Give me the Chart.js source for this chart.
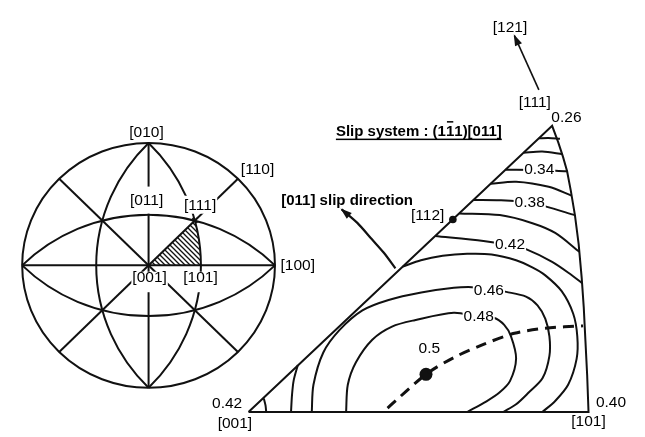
<!DOCTYPE html>
<html>
<head>
<meta charset="utf-8">
<script src="https://cdn.jsdelivr.net/npm/chart.js@4.4.1/dist/chart.umd.min.js"></script>
<style>
  html, body { margin: 0; padding: 0; background: #fff; }
  canvas { display: block; }
</style>
</head>
<body>
<canvas id="fig" width="645" height="437"></canvas>
<script>
// ---------- Left: standard (001) stereographic net, unit primitive circle ----------
const netPrimitive = [0, 0, 1];                       // centre x, centre y, radius
const netGreatCircles = [                              // centre x, centre y, radius, from deg, to deg
  [0, -1, 1.4142, 45, 135],
  [0, 1, 1.4142, 225, 315],
  [1, 0, 1.4142, 135, 225],
  [-1, 0, 1.4142, -45, 45]
];
const netDiameters = [
  [-1, 0, 1, 0],
  [0, -1, 0, 1],
  [-0.7071, -0.7071, 0.7071, 0.7071],
  [-0.7071, 0.7071, 0.7071, -0.7071]
];
const pole001 = [0, 0];
const pole101 = [0.4142, 0];
const pole111 = [0.366, 0.366];
const netLabels = [
  ['[010]', -0.016, 1.084, ''],
  ['[110]', 0.862, 0.783, ''],
  ['[011]', -0.016, 0.529, 'gap'],
  ['[111]', 0.408, 0.487, 'near'],
  ['[001]', 0.008, -0.105, 'below'],
  ['[101]', 0.411, -0.105, 'below'],
  ['[100]', 1.180, 0.0, '']
];

// ---------- Right: enlarged standard triangle, [001]->[101] = 100 ----------
const triangleOutline = [
  [0, 0], [100, 0], [99.6, 11.0], [99.1, 21.0], [98.6, 31.1], [98.0, 39.8],
  [97.1, 49.9], [96.0, 58.5], [94.8, 65.7], [93.7, 71.5], [92.5, 75.8],
  [91.1, 80.1], [89.3, 85.0], [0, 0]
];
// Schmid-factor contours for slip system (1-11)[011]
const sf030 = [[85.4, 81.3], [88.2, 81.4], [91.6, 81.2]];
const sf032 = [[80.9, 77.0], [86.4, 77.4], [92.4, 76.6]];
const sf034 = [[75.6, 72.0], [85.5, 71.9], [93.9, 71.5]];
const sf036 = [[71.2, 67.8], [78.7, 68.4], [88.3, 66.9], [95.0, 64.3]];
const sf038 = [[66.2, 63.0], [74.0, 62.9], [82.7, 62.3], [87.3, 61.1], [96.0, 58.5]];
const sf040 = [[62.0, 59.0], [73.9, 58.5], [83.5, 56.1], [90.2, 53.2], [97.3, 47.6]];
const sf042 = [[54.9, 52.3], [69.1, 50.8], [76.9, 49.6], [81.6, 48.4], [89.3, 44.6], [95.0, 40.7], [98.1, 38.3]];
const sf042Corner = [[4.5, 4.0], [5.0, 2.0], [5.2, 0]];
const sf044 = [[45.4, 43.2], [50.7, 45.1], [57.1, 46.4], [64.3, 47.0], [71.5, 46.8], [78.7, 45.1],
  [83.6, 42.9], [87.3, 40.6], [92.1, 35.9], [95.5, 29.2], [96.7, 22.5], [96.5, 15.8],
  [94.0, 8.1], [90.2, 3.3], [86.4, 0]];
const sf044Corner = [[14.5, 14.0], [13.3, 9.5], [12.8, 5.2], [12.5, 0]];
const sf046 = [[18.6, 0], [19.1, 8.1], [22.0, 17.7], [26.8, 24.4], [33.5, 30.2], [41.2, 33.3],
  [50.8, 35.5], [60.4, 36.9], [65.7, 37.1], [70.6, 36.7], [75.8, 35.7], [81.6, 34.3],
  [85.0, 31.7], [87.3, 27.7], [88.5, 22.5], [88.5, 16.7], [86.5, 10.1], [82.4, 5.8],
  [78.7, 2.3], [74.9, 0]];
const sf048 = [[28.7, 0], [29.2, 8.1], [31.6, 14.8], [36.4, 21.5], [42.2, 25.4], [48.9, 27.3],
  [60.4, 29.5], [67.7, 28.2], [72.1, 28.0], [75.2, 25.9], [77.2, 22.5], [78.7, 15.9],
  [76.9, 9.2], [73.8, 5.8], [70.0, 3.2], [64.3, 0]];
const maxPath = [[40.9, 1.2], [52.2, 11.2], [60.4, 16.2], [69.1, 20.1], [78.2, 23.4], [87.3, 24.9], [98.4, 25.6]];
const maxPoint = [[52.2, 11.2]];
const point112 = [[60.1, 57.2]];
const slipArrow = [[43.2, 42.7], [39.8, 47.3], [36.3, 51.3], [32.0, 56.2], [27.4, 60.2]];
const rotationArrow = [[85.4, 95.7], [78.2, 111.8]];
const ipfLabels = [
  ['[121]', 76.9, 114.1, ''],
  ['[111]', 84.2, 91.9, ''],
  ['0.26', 93.5, 87.3, ''],
  ['0.34', 85.5, 72.0, 'line'],
  ['0.38', 82.7, 62.3, 'line'],
  ['[112]', 52.7, 58.2, ''],
  ['0.42', 76.9, 49.6, 'line'],
  ['0.46', 70.7, 36.0, 'line'],
  ['0.48', 67.7, 28.2, 'line'],
  ['0.5', 53.2, 18.7, ''],
  ['0.42', -6.3, 2.6, ''],
  ['[001]', -4.0, -3.5, ''],
  ['0.40', 106.6, 2.9, ''],
  ['[101]', 100.0, -2.9, ''],
  ['[011] slip direction', 29.0, 62.6, 'bold']
];
const titleParts = ['Slip system : (1', '1', '1)[011]'];   // bar over the middle index
const titleAt = [50.1, 83.6];

// ---------- drawing ----------
const INK = '#111';
const FONT = '"Liberation Sans", Arial, sans-serif';
const maskPad = {
  gap:   { x: 2, top: 8, bottom: 7 },
  near:  { x: 1, top: 4, bottom: 2 },
  below: { x: 1, top: 0.5, bottom: 8 },
  line:  { x: 1, top: 0, bottom: 0 }
};

const toXY = arr => arr.map(([x, y]) => ({ x, y }));
function curve(arr, extra) {
  return Object.assign({
    data: toXY(arr), xAxisID: 'xi', yAxisID: 'yi', showLine: true,
    borderColor: INK, borderWidth: 2, pointRadius: 0, tension: 0.3, fill: false
  }, extra || {});
}

function hatchPattern(ctx) {
  const t = document.createElement('canvas');
  t.width = 5; t.height = 5;
  const g = t.getContext('2d');
  g.strokeStyle = INK; g.lineWidth = 1.3;
  g.beginPath();
  g.moveTo(-1, -1); g.lineTo(6, 6);
  g.moveTo(-1, 4); g.lineTo(1, 6);
  g.moveTo(4, -1); g.lineTo(6, 1);
  g.stroke();
  return ctx.createPattern(t, 'repeat');
}

const netPlugin = {
  id: 'stereoNet',
  beforeDatasetsDraw(chart) {
    const ctx = chart.ctx, sx = chart.scales.xn, sy = chart.scales.yn;
    const X = v => sx.getPixelForValue(v), Y = v => sy.getPixelForValue(v);
    const kx = X(1) - X(0), ky = Y(0) - Y(1);
    const rad = d => d * Math.PI / 180;
    ctx.save();
    // hatched unit triangle 001-101-111; curved side lies on the last great circle
    const gc = netGreatCircles[3];
    const a0 = Math.atan2(pole101[1] - gc[1], pole101[0] - gc[0]);
    const a1 = Math.atan2(pole111[1] - gc[1], pole111[0] - gc[0]);
    ctx.beginPath();
    ctx.moveTo(X(pole001[0]), Y(pole001[1]));
    ctx.lineTo(X(pole101[0]), Y(pole101[1]));
    ctx.ellipse(X(gc[0]), Y(gc[1]), gc[2] * kx, gc[2] * ky, 0, -a0, -a1, true);
    ctx.closePath();
    ctx.fillStyle = hatchPattern(ctx);
    ctx.fill();

    ctx.strokeStyle = INK; ctx.lineWidth = 2;
    ctx.beginPath();
    ctx.ellipse(X(netPrimitive[0]), Y(netPrimitive[1]), netPrimitive[2] * kx, netPrimitive[2] * ky, 0, 0, Math.PI * 2);
    ctx.stroke();
    netGreatCircles.forEach(([cx, cy, r, d1, d2]) => {
      ctx.beginPath();
      ctx.ellipse(X(cx), Y(cy), r * kx, r * ky, 0, -rad(d2), -rad(d1), false);
      ctx.stroke();
    });
    netDiameters.forEach(([x1, y1, x2, y2]) => {
      ctx.beginPath();
      ctx.moveTo(X(x1), Y(y1));
      ctx.lineTo(X(x2), Y(y2));
      ctx.stroke();
    });
    ctx.restore();
  }
};

function drawLabel(ctx, text, x, y, kind) {
  const bold = kind === 'bold';
  ctx.font = (bold ? 'bold 15px ' : '15.5px ') + FONT;
  const w = ctx.measureText(text).width;
  const pad = maskPad[kind];
  if (pad) {
    ctx.fillStyle = '#fff';
    ctx.fillRect(x - w / 2 - pad.x, y - 6 - pad.top, w + 2 * pad.x, 12 + pad.top + pad.bottom);
  }
  ctx.fillStyle = '#000';
  ctx.textAlign = 'center';
  ctx.textBaseline = 'middle';
  ctx.fillText(text, x, y);
}

function arrowHead(ctx, from, to) {
  const a = Math.atan2(to[1] - from[1], to[0] - from[0]);
  const len = 10, half = 3.8;
  const bx = to[0] - len * Math.cos(a), by = to[1] - len * Math.sin(a);
  ctx.beginPath();
  ctx.moveTo(to[0] + 1.5 * Math.cos(a), to[1] + 1.5 * Math.sin(a));
  ctx.lineTo(bx + half * Math.sin(a), by - half * Math.cos(a));
  ctx.lineTo(bx - half * Math.sin(a), by + half * Math.cos(a));
  ctx.closePath();
  ctx.fill();
}

const annotationPlugin = {
  id: 'annotations',
  afterDatasetsDraw(chart) {
    const ctx = chart.ctx;
    const n = p => [chart.scales.xn.getPixelForValue(p[0]), chart.scales.yn.getPixelForValue(p[1])];
    const i = p => [chart.scales.xi.getPixelForValue(p[0]), chart.scales.yi.getPixelForValue(p[1])];
    ctx.save();
    netLabels.forEach(([t, x, y, k]) => { const p = n([x, y]); drawLabel(ctx, t, p[0], p[1], k); });
    ipfLabels.forEach(([t, x, y, k]) => { const p = i([x, y]); drawLabel(ctx, t, p[0], p[1], k); });

    ctx.fillStyle = INK;
    arrowHead(ctx, i(slipArrow[slipArrow.length - 2]), i(slipArrow[slipArrow.length - 1]));
    arrowHead(ctx, i(rotationArrow[0]), i(rotationArrow[1]));

    // slip system heading with bar index and underline
    ctx.font = 'bold 15px ' + FONT;
    ctx.textAlign = 'left';
    ctx.textBaseline = 'alphabetic';
    ctx.fillStyle = '#000';
    const widths = titleParts.map(s => ctx.measureText(s).width);
    const total = widths.reduce((a, b) => a + b, 0);
    const c = i(titleAt);
    let x = c[0] - total / 2;
    const base = c[1] + 5;
    titleParts.forEach((s, k) => {
      ctx.fillText(s, x, base);
      if (k === 1) {
        ctx.fillRect(x + 1, base - 14.5, widths[k] - 2, 1.5);
      }
      x += widths[k];
    });
    ctx.fillRect(c[0] - total / 2, base + 3, total, 1.5);
    ctx.restore();
  }
};

new Chart(document.getElementById('fig'), {
  type: 'scatter',
  data: {
    datasets: [
      curve(triangleOutline, { tension: 0 }),
      curve(sf030), curve(sf032), curve(sf034), curve(sf036), curve(sf038),
      curve(sf040), curve(sf042), curve(sf042Corner), curve(sf044), curve(sf044Corner),
      curve(sf046), curve(sf048),
      curve(maxPath, { borderWidth: 3, borderDash: [11, 7], tension: 0.3 }),
      curve(slipArrow, { borderWidth: 2.2 }),
      curve(rotationArrow, { borderWidth: 1.6, tension: 0 }),
      curve(maxPoint, { showLine: false, pointRadius: 6.5, pointBackgroundColor: INK, pointBorderWidth: 0 }),
      curve(point112, { showLine: false, pointRadius: 3.8, pointBackgroundColor: INK, pointBorderWidth: 0 }),
      {
        data: toXY([pole111]), xAxisID: 'xn', yAxisID: 'yn', showLine: false,
        pointStyle: 'crossRot', pointRadius: 3.5, borderColor: INK, borderWidth: 1.5
      }
    ]
  },
  options: {
    responsive: false,
    animation: false,
    devicePixelRatio: 1,
    events: [],
    layout: { padding: 0 },
    plugins: { legend: { display: false }, tooltip: { enabled: false } },
    scales: {
      xn: { type: 'linear', display: false, min: -1.1240, max: 3.8760 },
      yn: { type: 'linear', display: false, min: -1.3487, max: 2.1141 },
      xi: { type: 'linear', display: false, min: -71.18, max: 114.70 },
      yi: { type: 'linear', display: false, min: -5.476, max: 120.46 }
    }
  },
  plugins: [netPlugin, annotationPlugin]
});
</script>
</body>
</html>
